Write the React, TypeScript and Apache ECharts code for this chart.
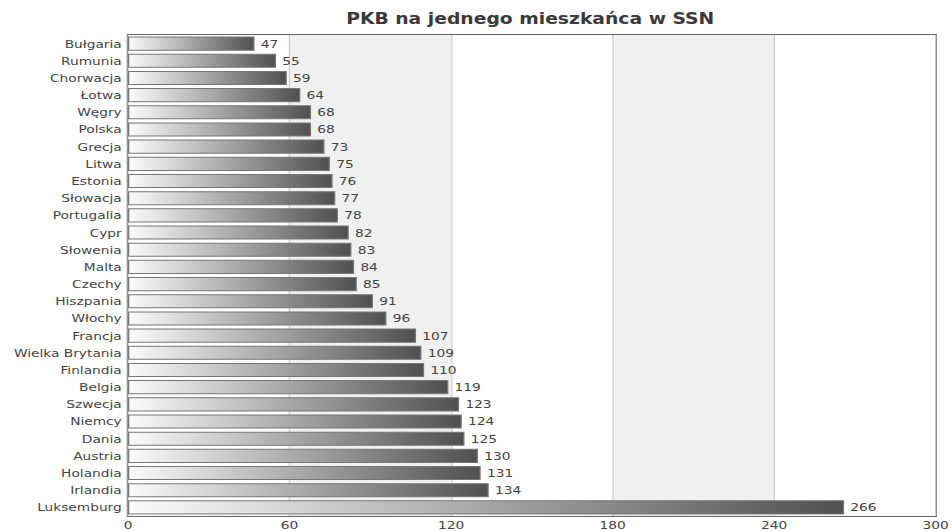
import React, { useEffect, useRef } from "react";
import * as echarts from "echarts";

const categories = [
  "Bułgaria", "Rumunia", "Chorwacja", "Łotwa", "Węgry", "Polska", "Grecja", "Litwa",
  "Estonia", "Słowacja", "Portugalia", "Cypr", "Słowenia", "Malta", "Czechy", "Hiszpania",
  "Włochy", "Francja", "Wielka Brytania", "Finlandia", "Belgia", "Szwecja", "Niemcy",
  "Dania", "Austria", "Holandia", "Irlandia", "Luksemburg",
];
const values = [
  47, 55, 59, 64, 68, 68, 73, 75, 76, 77, 78, 82, 83, 84, 85, 91, 96, 107, 109, 110,
  119, 123, 124, 125, 130, 131, 134, 266,
];
const titleText = "PKB na jednego mieszkańca w SSN";

const SX = 1.25;

export default function App() {
  const ref = useRef<HTMLDivElement>(null);
  useEffect(() => {
    const chart = echarts.init(ref.current!, null, { renderer: "svg" });
    const font = "DejaVu Sans, Verdana, sans-serif";
    chart.setOption({
      animation: false,
      backgroundColor: "#ffffff",
      title: {
        text: titleText,
        left: 524 / SX,
        textAlign: "center",
        top: 6,
        textStyle: { fontFamily: font, fontSize: 15, fontWeight: "bold", color: "#3a3a3a" },
      },
      grid: {
        left: 128 / SX,
        right: 16 / SX,
        top: 35,
        bottom: 14,
        show: true,
        borderColor: "#666",
        borderWidth: 2,
        backgroundColor: "transparent",
      },
      xAxis: {
        type: "value",
        min: 0,
        max: 300,
        interval: 60,
        axisLine: { show: false },
        axisTick: { show: false },
        axisLabel: { fontFamily: font, fontSize: 11, color: "#444", margin: 4 },
        splitLine: { show: true, lineStyle: { color: "#cccccc", width: 1 } },
        splitArea: { show: true, areaStyle: { color: ["#ffffff", "#f0f0f0"] } },
      },
      yAxis: {
        type: "category",
        data: categories,
        inverse: true,
        axisLine: { show: false },
        axisTick: { show: false },
        axisLabel: { fontFamily: font, fontSize: 11, color: "#444", margin: 5 },
      },
      series: [
        {
          type: "bar",
          data: values,
          barCategoryGap: "18%",
          itemStyle: {
            color: new echarts.graphic.LinearGradient(0, 0, 1, 0, [
              { offset: 0, color: "#fbfbfb" },
              { offset: 1, color: "#505050" },
            ]),
            borderColor: "#777",
            borderWidth: 1,
          },
          label: {
            show: true,
            position: "right",
            distance: 5,
            fontFamily: font,
            fontSize: 11,
            color: "#444",
          },
        },
      ],
    });
    return () => chart.dispose();
  }, []);
  return (
    <div
      ref={ref}
      style={{
        position: "absolute",
        left: 0,
        top: 0,
        width: 952 / SX,
        height: 531,
        transform: `scaleX(${SX})`,
        transformOrigin: "0 0",
      }}
    />
  );
}
